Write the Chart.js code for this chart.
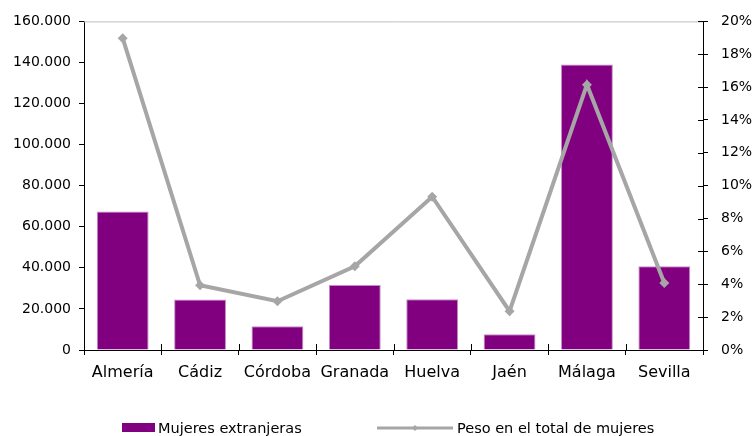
<!DOCTYPE html>
<html><head><meta charset="utf-8">
<script src="https://cdn.jsdelivr.net/npm/chart.js@4/dist/chart.umd.min.js"></script>
<style>html,body{margin:0;padding:0;background:#fff}#w{width:752px;height:436px}</style>
</head><body><div id="w"><canvas id="c" width="752" height="436"></canvas></div>
<script>
const categories = ['Almería','Cádiz','Córdoba','Granada','Huelva','Jaén','Málaga','Sevilla'];
const mujeresExtranjeras = [67400, 24600, 11600, 31700, 24700, 7700, 139000, 40800];
const pesoTotalMujeres = [18.98, 3.94, 2.97, 5.1, 9.33, 2.36, 16.15, 4.08];
const seriesNames = ['Mujeres extranjeras', 'Peso en el total de mujeres'];
const leftAxisRange = [0, 160000, 20000];
const rightAxisRange = [0, 20, 2];

const FONT = 'DejaVu Sans';
function fmtMiles(v){ return String(Math.round(v)).replace(/\B(?=(\d{3})+(?!\d))/g, '.'); }

const extras = {
  id: 'extras',
  afterDraw(chart){
    const ctx = chart.ctx, a = chart.chartArea;
    ctx.save();
    // top border
    ctx.strokeStyle = '#BFBFBF'; ctx.lineWidth = 1;
    ctx.beginPath(); ctx.moveTo(a.left, a.top + 0.5); ctx.lineTo(a.right, a.top + 0.5); ctx.stroke();
    // inward tick marks on x axis (category boundaries) and right axis
    ctx.strokeStyle = '#000';
    const n = chart.data.labels.length;
    for (let i = 0; i <= n; i++) {
      const px = Math.round(a.left + (a.right - a.left) * i / n) + 0.5;
      ctx.beginPath(); ctx.moveTo(px, a.bottom); ctx.lineTo(px, a.bottom - 6); ctx.stroke();
    }
    const y1 = chart.scales.y1;
    y1.ticks.forEach(t => {
      const py = Math.round(y1.getPixelForValue(t.value)) + 0.5;
      ctx.beginPath(); ctx.moveTo(a.right, py); ctx.lineTo(a.right - 5, py); ctx.stroke();
    });
    // legend
    const ds = chart.data.datasets;
    const bar = ds.find(d => d.type === 'bar');
    const line = ds.find(d => d.type === 'line');
    const ly = 428;
    ctx.fillStyle = bar.backgroundColor;
    ctx.fillRect(122, 423, 33, 9);
    ctx.fillStyle = '#000';
    ctx.font = '14.5px "' + FONT + '"';
    ctx.textBaseline = 'middle';
    ctx.textAlign = 'left';
    ctx.fillText(bar.label, 158, ly + 1);
    ctx.strokeStyle = line.borderColor; ctx.lineWidth = 3;
    ctx.beginPath(); ctx.moveTo(377, ly); ctx.lineTo(453, ly); ctx.stroke();
    ctx.fillStyle = line.borderColor;
    ctx.beginPath(); ctx.moveTo(415, ly - 3); ctx.lineTo(418, ly); ctx.lineTo(415, ly + 3); ctx.lineTo(412, ly); ctx.closePath(); ctx.fill();
    ctx.fillStyle = '#000';
    ctx.fillText(line.label, 457, ly + 1);
    ctx.restore();
  }
};

new Chart(document.getElementById('c'), {
  data: {
    labels: categories,
    datasets: [
      {
        type: 'line', label: seriesNames[1], data: pesoTotalMujeres, yAxisID: 'y1', order: 0,
        borderColor: '#A6A6A6', backgroundColor: '#A6A6A6', borderWidth: 4,
        pointStyle: 'rectRot', pointRadius: 5, pointBackgroundColor: '#A6A6A6', pointBorderColor: '#A6A6A6',
        pointBorderWidth: 0, tension: 0
      },
      {
        type: 'bar', label: seriesNames[0], data: mujeresExtranjeras, yAxisID: 'y', order: 1,
        backgroundColor: '#800080', borderColor: '#C58BC5', borderWidth: 1,
        barPercentage: 0.67, categoryPercentage: 1.0
      }
    ]
  },
  options: {
    responsive: false, animation: false, devicePixelRatio: 1,
    layout: { padding: { top: 20, left: 0, right: 0, bottom: 0 } },
    plugins: { legend: { display: false }, tooltip: { enabled: false } },
    scales: {
      x: {
        offset: true,
        grid: { offset: true, drawOnChartArea: false, color: '#000', tickLength: 5 },
        border: { color: '#000', width: 1 },
        ticks: { color: '#000', font: { family: FONT, size: 16 }, padding: 8, maxRotation: 0, autoSkip: false },
        afterFit(s){ s.height = 86; }
      },
      y: {
        position: 'left', min: leftAxisRange[0], max: leftAxisRange[1],
        grid: { drawOnChartArea: false, color: '#000', tickLength: 5 },
        border: { color: '#000', width: 1 },
        ticks: { stepSize: leftAxisRange[2], color: '#000', font: { family: FONT, size: 14 }, padding: 8,
          callback: v => fmtMiles(v) },
        afterFit(s){ s.width = 84; }
      },
      y1: {
        position: 'right', min: rightAxisRange[0], max: rightAxisRange[1],
        grid: { drawOnChartArea: false, color: '#000', tickLength: 5 },
        border: { color: '#000', width: 1 },
        ticks: { stepSize: rightAxisRange[2], color: '#000', font: { family: FONT, size: 14 }, padding: 13,
          callback: v => v + '%' },
        afterFit(s){ s.width = 49; }
      }
    }
  },
  plugins: [extras]
});
</script></body></html>
